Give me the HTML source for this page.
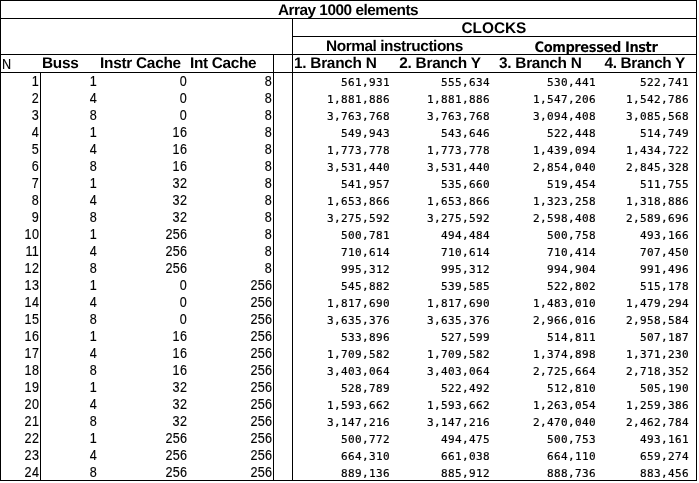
<!DOCTYPE html>
<html><head><meta charset="utf-8"><title>Array 1000 elements</title>
<style>
html,body{margin:0;padding:0;background:#fff;}
body{width:699px;height:483px;position:relative;overflow:hidden;color:#000;}
i{position:absolute;background:#000;display:block;}
div{position:absolute;white-space:nowrap;height:18px;line-height:18px;}
.r{font:14px "Liberation Sans",Arial,sans-serif;letter-spacing:0.3px;transform:scaleX(0.9);transform-origin:100% 0;-webkit-text-stroke:0.15px #000;}
.r.h{transform-origin:0 0;}
.b{font:bold 15.4px "Liberation Sans",Arial,sans-serif;text-rendering:geometricPrecision;}
.m{font:11px "DejaVu Sans Mono", monospace;letter-spacing:0.378px;-webkit-text-stroke:0.2px #000;}
</style></head><body>
<i style="left:0px;top:0px;width:697px;height:1px"></i>
<i style="left:0px;top:18px;width:697px;height:1px"></i>
<i style="left:292px;top:36px;width:405px;height:1px"></i>
<i style="left:0px;top:54px;width:697px;height:1px"></i>
<i style="left:0px;top:72px;width:697px;height:1px"></i>
<i style="left:0px;top:480px;width:697px;height:1px"></i>
<i style="left:0px;top:0px;width:1px;height:481px"></i>
<i style="left:696px;top:0px;width:1px;height:481px"></i>
<i style="left:292px;top:18px;width:1px;height:463px"></i>
<i style="left:273px;top:54px;width:1px;height:427px"></i>
<i style="left:40px;top:72px;width:1px;height:409px"></i>
<div class="b" style="top:2px;left:148.0px;width:400px;text-align:center;letter-spacing:-0.5px;">Array 1000 elements</div>
<div class="b" style="top:20px;left:293.9px;width:400px;text-align:center;">CLOCKS</div>
<div class="b" style="top:38px;left:194.5px;width:400px;text-align:center;letter-spacing:-0.45px;">Normal instructions</div>
<div class="b" style="top:40px;left:396.0px;width:400px;text-align:center;letter-spacing:-0.42px;font-size:14.5px;font-family:'DejaVu Sans',sans-serif;font-stretch:condensed;">Compressed Instr</div>
<div class="r h" style="top:56px;left:2.0px;">N</div>
<div class="b" style="top:55px;left:42.0px;letter-spacing:-0.3px;">Buss</div>
<div class="b" style="top:55px;left:100.0px;letter-spacing:-0.27px;">Instr Cache</div>
<div class="b" style="top:55px;left:190.0px;letter-spacing:-0.336px;">Int Cache</div>
<div class="b" style="top:55px;left:294.0px;letter-spacing:-0.27px;">1. Branch N</div>
<div class="b" style="top:55px;left:399.3px;letter-spacing:-0.27px;">2. Branch Y</div>
<div class="b" style="top:55px;left:499.0px;letter-spacing:-0.27px;">3. Branch N</div>
<div class="b" style="top:55px;left:604.5px;letter-spacing:-0.36px;">4. Branch Y</div>
<div class="r" style="top:73px;right:660px;">1</div>
<div class="r" style="top:73px;right:602px;">1</div>
<div class="r" style="top:73px;right:511.5px;">0</div>
<div class="r" style="top:73px;right:427px;">8</div>
<div class="m" style="top:76px;right:309px;">561,931</div>
<div class="m" style="top:76px;right:209px;">555,634</div>
<div class="m" style="top:76px;right:103px;">530,441</div>
<div class="m" style="top:76px;right:10px;">522,741</div>
<div class="r" style="top:90px;right:660px;">2</div>
<div class="r" style="top:90px;right:602px;">4</div>
<div class="r" style="top:90px;right:511.5px;">0</div>
<div class="r" style="top:90px;right:427px;">8</div>
<div class="m" style="top:93px;right:309px;">1,881,886</div>
<div class="m" style="top:93px;right:209px;">1,881,886</div>
<div class="m" style="top:93px;right:103px;">1,547,206</div>
<div class="m" style="top:93px;right:10px;">1,542,786</div>
<div class="r" style="top:107px;right:660px;">3</div>
<div class="r" style="top:107px;right:602px;">8</div>
<div class="r" style="top:107px;right:511.5px;">0</div>
<div class="r" style="top:107px;right:427px;">8</div>
<div class="m" style="top:110px;right:309px;">3,763,768</div>
<div class="m" style="top:110px;right:209px;">3,763,768</div>
<div class="m" style="top:110px;right:103px;">3,094,408</div>
<div class="m" style="top:110px;right:10px;">3,085,568</div>
<div class="r" style="top:124px;right:660px;">4</div>
<div class="r" style="top:124px;right:602px;">1</div>
<div class="r" style="top:124px;right:511.5px;">16</div>
<div class="r" style="top:124px;right:427px;">8</div>
<div class="m" style="top:127px;right:309px;">549,943</div>
<div class="m" style="top:127px;right:209px;">543,646</div>
<div class="m" style="top:127px;right:103px;">522,448</div>
<div class="m" style="top:127px;right:10px;">514,749</div>
<div class="r" style="top:141px;right:660px;">5</div>
<div class="r" style="top:141px;right:602px;">4</div>
<div class="r" style="top:141px;right:511.5px;">16</div>
<div class="r" style="top:141px;right:427px;">8</div>
<div class="m" style="top:144px;right:309px;">1,773,778</div>
<div class="m" style="top:144px;right:209px;">1,773,778</div>
<div class="m" style="top:144px;right:103px;">1,439,094</div>
<div class="m" style="top:144px;right:10px;">1,434,722</div>
<div class="r" style="top:158px;right:660px;">6</div>
<div class="r" style="top:158px;right:602px;">8</div>
<div class="r" style="top:158px;right:511.5px;">16</div>
<div class="r" style="top:158px;right:427px;">8</div>
<div class="m" style="top:161px;right:309px;">3,531,440</div>
<div class="m" style="top:161px;right:209px;">3,531,440</div>
<div class="m" style="top:161px;right:103px;">2,854,040</div>
<div class="m" style="top:161px;right:10px;">2,845,328</div>
<div class="r" style="top:175px;right:660px;">7</div>
<div class="r" style="top:175px;right:602px;">1</div>
<div class="r" style="top:175px;right:511.5px;">32</div>
<div class="r" style="top:175px;right:427px;">8</div>
<div class="m" style="top:178px;right:309px;">541,957</div>
<div class="m" style="top:178px;right:209px;">535,660</div>
<div class="m" style="top:178px;right:103px;">519,454</div>
<div class="m" style="top:178px;right:10px;">511,755</div>
<div class="r" style="top:192px;right:660px;">8</div>
<div class="r" style="top:192px;right:602px;">4</div>
<div class="r" style="top:192px;right:511.5px;">32</div>
<div class="r" style="top:192px;right:427px;">8</div>
<div class="m" style="top:195px;right:309px;">1,653,866</div>
<div class="m" style="top:195px;right:209px;">1,653,866</div>
<div class="m" style="top:195px;right:103px;">1,323,258</div>
<div class="m" style="top:195px;right:10px;">1,318,886</div>
<div class="r" style="top:209px;right:660px;">9</div>
<div class="r" style="top:209px;right:602px;">8</div>
<div class="r" style="top:209px;right:511.5px;">32</div>
<div class="r" style="top:209px;right:427px;">8</div>
<div class="m" style="top:212px;right:309px;">3,275,592</div>
<div class="m" style="top:212px;right:209px;">3,275,592</div>
<div class="m" style="top:212px;right:103px;">2,598,408</div>
<div class="m" style="top:212px;right:10px;">2,589,696</div>
<div class="r" style="top:226px;right:660px;">10</div>
<div class="r" style="top:226px;right:602px;">1</div>
<div class="r" style="top:226px;right:511.5px;">256</div>
<div class="r" style="top:226px;right:427px;">8</div>
<div class="m" style="top:229px;right:309px;">500,781</div>
<div class="m" style="top:229px;right:209px;">494,484</div>
<div class="m" style="top:229px;right:103px;">500,758</div>
<div class="m" style="top:229px;right:10px;">493,166</div>
<div class="r" style="top:243px;right:660px;">11</div>
<div class="r" style="top:243px;right:602px;">4</div>
<div class="r" style="top:243px;right:511.5px;">256</div>
<div class="r" style="top:243px;right:427px;">8</div>
<div class="m" style="top:246px;right:309px;">710,614</div>
<div class="m" style="top:246px;right:209px;">710,614</div>
<div class="m" style="top:246px;right:103px;">710,414</div>
<div class="m" style="top:246px;right:10px;">707,450</div>
<div class="r" style="top:260px;right:660px;">12</div>
<div class="r" style="top:260px;right:602px;">8</div>
<div class="r" style="top:260px;right:511.5px;">256</div>
<div class="r" style="top:260px;right:427px;">8</div>
<div class="m" style="top:263px;right:309px;">995,312</div>
<div class="m" style="top:263px;right:209px;">995,312</div>
<div class="m" style="top:263px;right:103px;">994,904</div>
<div class="m" style="top:263px;right:10px;">991,496</div>
<div class="r" style="top:277px;right:660px;">13</div>
<div class="r" style="top:277px;right:602px;">1</div>
<div class="r" style="top:277px;right:511.5px;">0</div>
<div class="r" style="top:277px;right:427px;">256</div>
<div class="m" style="top:280px;right:309px;">545,882</div>
<div class="m" style="top:280px;right:209px;">539,585</div>
<div class="m" style="top:280px;right:103px;">522,802</div>
<div class="m" style="top:280px;right:10px;">515,178</div>
<div class="r" style="top:294px;right:660px;">14</div>
<div class="r" style="top:294px;right:602px;">4</div>
<div class="r" style="top:294px;right:511.5px;">0</div>
<div class="r" style="top:294px;right:427px;">256</div>
<div class="m" style="top:297px;right:309px;">1,817,690</div>
<div class="m" style="top:297px;right:209px;">1,817,690</div>
<div class="m" style="top:297px;right:103px;">1,483,010</div>
<div class="m" style="top:297px;right:10px;">1,479,294</div>
<div class="r" style="top:311px;right:660px;">15</div>
<div class="r" style="top:311px;right:602px;">8</div>
<div class="r" style="top:311px;right:511.5px;">0</div>
<div class="r" style="top:311px;right:427px;">256</div>
<div class="m" style="top:314px;right:309px;">3,635,376</div>
<div class="m" style="top:314px;right:209px;">3,635,376</div>
<div class="m" style="top:314px;right:103px;">2,966,016</div>
<div class="m" style="top:314px;right:10px;">2,958,584</div>
<div class="r" style="top:328px;right:660px;">16</div>
<div class="r" style="top:328px;right:602px;">1</div>
<div class="r" style="top:328px;right:511.5px;">16</div>
<div class="r" style="top:328px;right:427px;">256</div>
<div class="m" style="top:331px;right:309px;">533,896</div>
<div class="m" style="top:331px;right:209px;">527,599</div>
<div class="m" style="top:331px;right:103px;">514,811</div>
<div class="m" style="top:331px;right:10px;">507,187</div>
<div class="r" style="top:345px;right:660px;">17</div>
<div class="r" style="top:345px;right:602px;">4</div>
<div class="r" style="top:345px;right:511.5px;">16</div>
<div class="r" style="top:345px;right:427px;">256</div>
<div class="m" style="top:348px;right:309px;">1,709,582</div>
<div class="m" style="top:348px;right:209px;">1,709,582</div>
<div class="m" style="top:348px;right:103px;">1,374,898</div>
<div class="m" style="top:348px;right:10px;">1,371,230</div>
<div class="r" style="top:362px;right:660px;">18</div>
<div class="r" style="top:362px;right:602px;">8</div>
<div class="r" style="top:362px;right:511.5px;">16</div>
<div class="r" style="top:362px;right:427px;">256</div>
<div class="m" style="top:365px;right:309px;">3,403,064</div>
<div class="m" style="top:365px;right:209px;">3,403,064</div>
<div class="m" style="top:365px;right:103px;">2,725,664</div>
<div class="m" style="top:365px;right:10px;">2,718,352</div>
<div class="r" style="top:379px;right:660px;">19</div>
<div class="r" style="top:379px;right:602px;">1</div>
<div class="r" style="top:379px;right:511.5px;">32</div>
<div class="r" style="top:379px;right:427px;">256</div>
<div class="m" style="top:382px;right:309px;">528,789</div>
<div class="m" style="top:382px;right:209px;">522,492</div>
<div class="m" style="top:382px;right:103px;">512,810</div>
<div class="m" style="top:382px;right:10px;">505,190</div>
<div class="r" style="top:396px;right:660px;">20</div>
<div class="r" style="top:396px;right:602px;">4</div>
<div class="r" style="top:396px;right:511.5px;">32</div>
<div class="r" style="top:396px;right:427px;">256</div>
<div class="m" style="top:399px;right:309px;">1,593,662</div>
<div class="m" style="top:399px;right:209px;">1,593,662</div>
<div class="m" style="top:399px;right:103px;">1,263,054</div>
<div class="m" style="top:399px;right:10px;">1,259,386</div>
<div class="r" style="top:413px;right:660px;">21</div>
<div class="r" style="top:413px;right:602px;">8</div>
<div class="r" style="top:413px;right:511.5px;">32</div>
<div class="r" style="top:413px;right:427px;">256</div>
<div class="m" style="top:416px;right:309px;">3,147,216</div>
<div class="m" style="top:416px;right:209px;">3,147,216</div>
<div class="m" style="top:416px;right:103px;">2,470,040</div>
<div class="m" style="top:416px;right:10px;">2,462,784</div>
<div class="r" style="top:430px;right:660px;">22</div>
<div class="r" style="top:430px;right:602px;">1</div>
<div class="r" style="top:430px;right:511.5px;">256</div>
<div class="r" style="top:430px;right:427px;">256</div>
<div class="m" style="top:433px;right:309px;">500,772</div>
<div class="m" style="top:433px;right:209px;">494,475</div>
<div class="m" style="top:433px;right:103px;">500,753</div>
<div class="m" style="top:433px;right:10px;">493,161</div>
<div class="r" style="top:447px;right:660px;">23</div>
<div class="r" style="top:447px;right:602px;">4</div>
<div class="r" style="top:447px;right:511.5px;">256</div>
<div class="r" style="top:447px;right:427px;">256</div>
<div class="m" style="top:450px;right:309px;">664,310</div>
<div class="m" style="top:450px;right:209px;">661,038</div>
<div class="m" style="top:450px;right:103px;">664,110</div>
<div class="m" style="top:450px;right:10px;">659,274</div>
<div class="r" style="top:464px;right:660px;">24</div>
<div class="r" style="top:464px;right:602px;">8</div>
<div class="r" style="top:464px;right:511.5px;">256</div>
<div class="r" style="top:464px;right:427px;">256</div>
<div class="m" style="top:467px;right:309px;">889,136</div>
<div class="m" style="top:467px;right:209px;">885,912</div>
<div class="m" style="top:467px;right:103px;">888,736</div>
<div class="m" style="top:467px;right:10px;">883,456</div>
</body></html>
